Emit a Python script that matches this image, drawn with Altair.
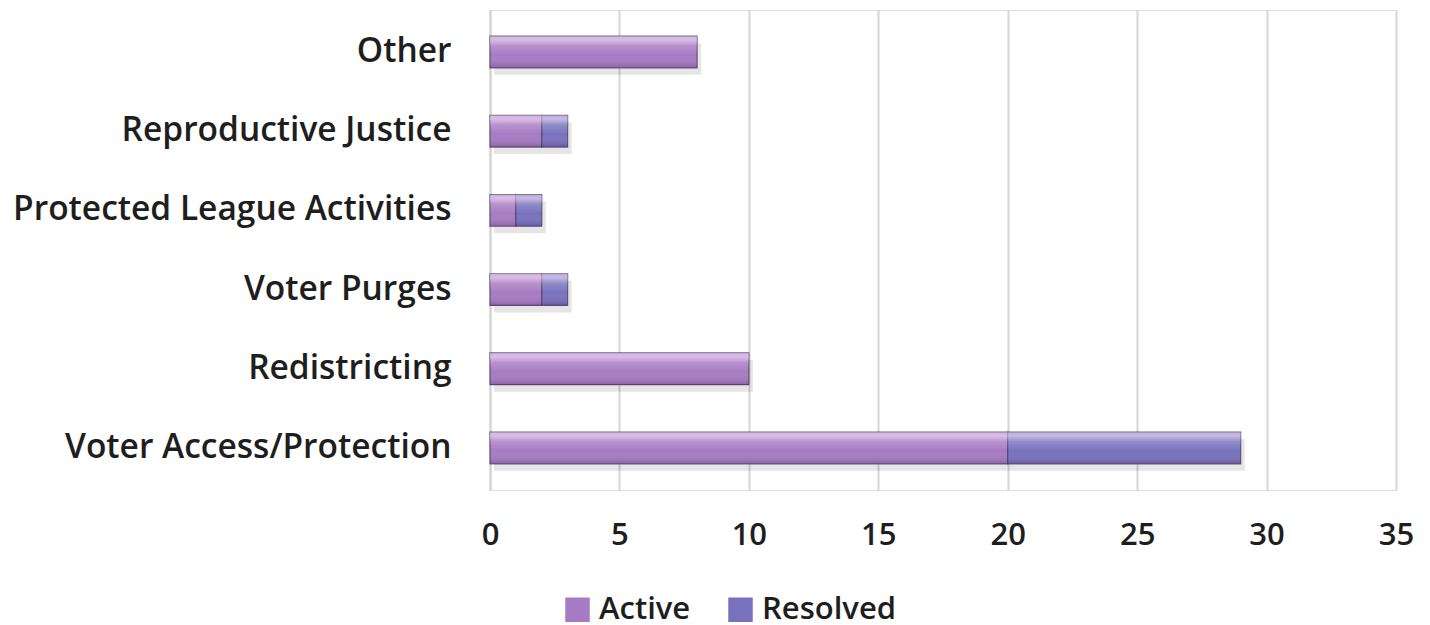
import altair as alt
import pandas as pd

categories = ["Other", "Reproductive Justice", "Protected League Activities",
              "Voter Purges", "Redistricting", "Voter Access/Protection"]
active = [8, 2, 1, 2, 10, 20]
resolved = [0, 1, 1, 1, 0, 9]
series = ["Active", "Resolved"]
colors = ["#A77BC3", "#7872BE"]
x_ticks = [0, 5, 10, 15, 20, 25, 30, 35]

rows = []
for c, a, r in zip(categories, active, resolved):
    rows.append({"category": c, "status": "Active", "value": a, "order": 0})
    rows.append({"category": c, "status": "Resolved", "value": r, "order": 1})
df = pd.DataFrame(rows)
df = df[df["value"] > 0]

FONT = "Open Sans"
TXT = "#1e1e1e"

y_enc = alt.Y("category:N", sort=categories,
              scale=alt.Scale(paddingInner=0.6, paddingOuter=0.33),
              axis=alt.Axis(title=None, labelFontSize=33.5, labelFont=FONT,
                            labelFontWeight=600, labelColor=TXT, labelLimit=600,
                            labelPadding=39, ticks=False, domain=True,
                            domainColor="#d4d4d4", domainWidth=2, grid=False))
x_enc = alt.X("value:Q", stack="zero",
              scale=alt.Scale(domain=[0, 35], nice=False),
              axis=alt.Axis(title=None, values=x_ticks, labelFontSize=31,
                            labelFont=FONT, labelFontWeight=600,
                            labelColor=TXT, labelPadding=30, labelFlush=False,
                            ticks=False, domain=False, grid=True,
                            gridColor="#d6d6d6", gridWidth=2))
order_enc = alt.Order("order:Q")

base = alt.Chart(df)

shadow = base.mark_bar(color="#000000", opacity=0.10, yOffset=7, xOffset=4).encode(
    x=x_enc, y=y_enc, order=order_enc)

bars = base.mark_bar(stroke="#4e3a66", strokeWidth=1.2, strokeOpacity=0.8).encode(
    x=x_enc, y=y_enc, order=order_enc,
    color=alt.Color("status:N", scale=alt.Scale(domain=series, range=colors),
                    legend=alt.Legend(title=None, orient="none", direction="horizontal",
                                      legendX=72, legendY=584,
                                      symbolType="square", symbolSize=600,
                                      symbolStrokeWidth=0, labelFontSize=31,
                                      labelFont=FONT, labelFontWeight=600,
                                      labelColor=TXT, columnPadding=34,
                                      symbolOffset=0, labelOffset=6)))

gloss = base.mark_bar(
    fill=alt.Gradient(gradient="linear", x1=0, y1=0, x2=0, y2=1,
                      stops=[alt.GradientStop(offset=0, color="rgba(255,255,255,0.45)"),
                             alt.GradientStop(offset=0.12, color="rgba(255,230,255,0.6)"),
                             alt.GradientStop(offset=0.3, color="rgba(255,255,255,0.18)"),
                             alt.GradientStop(offset=0.6, color="rgba(255,255,255,0.0)"),
                             alt.GradientStop(offset=1, color="rgba(40,0,60,0.2)")])
).encode(x=x_enc, y=y_enc, order=order_enc)

chart = alt.layer(shadow, bars, gloss).properties(
    width=906, height=480,
    padding={"left": 4, "top": 2, "right": 0, "bottom": 2}
).configure_view(stroke=None).configure(background="white")

chart.save("out.html", embed_options={"renderer": "svg", "actions": False})
